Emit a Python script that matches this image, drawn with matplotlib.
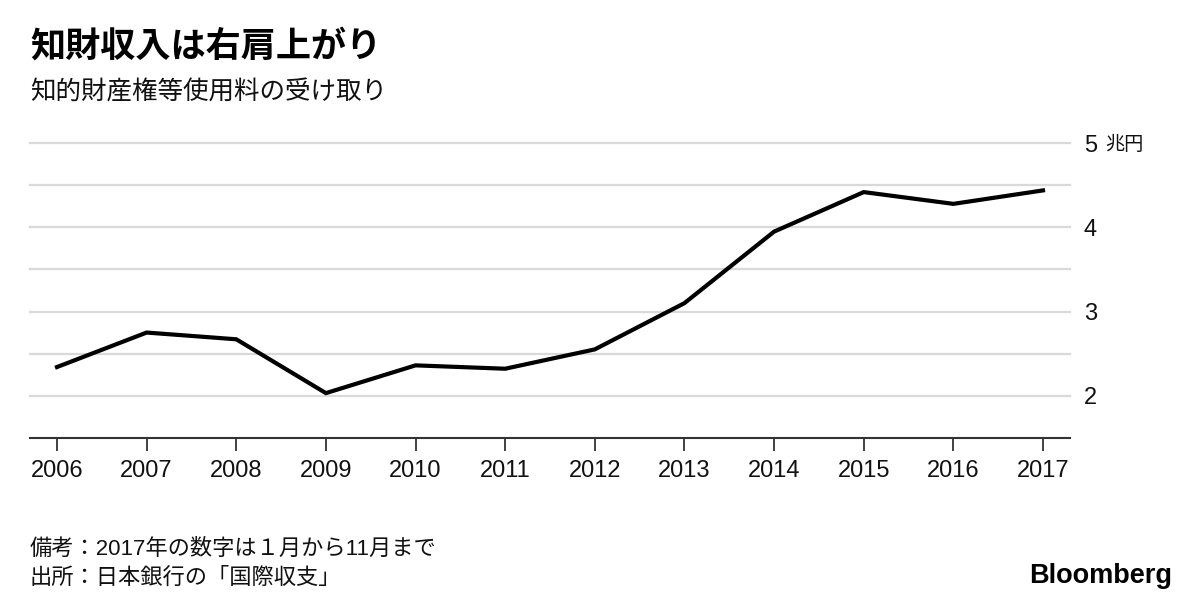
import matplotlib
matplotlib.use("Agg")
import matplotlib.pyplot as plt

years = [2006, 2007, 2008, 2009, 2010, 2011, 2012, 2013, 2014, 2015, 2016, 2017]
values = [2.34, 2.75, 2.67, 2.03, 2.36, 2.32, 2.55, 3.10, 3.95, 4.42, 4.28, 4.44]
ytick_vals = [2, 3, 4, 5]
ytick_labels = ["2", "3", "4", "5"]
y_unit = "兆円"
grid_vals = [2, 2.5, 3, 3.5, 4, 4.5, 5]

title = "知財収入は右肩上がり"
subtitle = "知的財産権等使用料の受け取り"
note1 = "備考：2017年の数字は１月から11月まで"
note2 = "出所：日本銀行の「国際収支」"

FAM = ["Liberation Sans", "Noto Sans CJK JP", "DejaVu Sans"]
plt.rcParams["font.family"] = FAM

W, H = 1200, 603
fig = plt.figure(figsize=(W / 100, H / 100), dpi=100)

left, right = 30, 1070
top, bottom = 139.1, 437.7
ax = fig.add_axes([left / W, 1 - bottom / H, (right - left) / W, (bottom - top) / H])

for g in grid_vals:
    ax.axhline(g, color="#d9d9d9", lw=1.6, zorder=1, clip_on=False)

ax.plot(years, values, color="black", lw=3.0, zorder=3, solid_joinstyle="miter")

ax.set_xlim(2006 - 27 / 89.64, 2017 + 27 / 89.64)
ax.set_ylim(1.5, 5.05)

for s in ["top", "left", "right"]:
    ax.spines[s].set_visible(False)
ax.spines["bottom"].set_color("#333333")
ax.spines["bottom"].set_linewidth(1.5)

ax.set_xticks(years)
ax.set_xticklabels([str(y) for y in years], fontsize=17, color="#111111")
ax.tick_params(axis="x", length=9, width=1.3, color="#333333", pad=7)

ax.yaxis.tick_right()
ax.set_yticks(ytick_vals)
ax.set_yticklabels(ytick_labels, fontsize=17, color="#111111")
ax.tick_params(axis="y", length=0, pad=10)
for lab in ax.get_yticklabels():
    lab.set_horizontalalignment("left")

# unit next to the top tick label
fig.text(1105 / W, 1 - 144 / H, y_unit, fontsize=13.8, family=["Noto Sans CJK JP"],
         va="center", ha="left", color="#111111")

fig.text(30 / W, 1 - 46 / H, title, fontsize=25.3, fontweight="bold",
         family=["Noto Sans CJK JP", "DejaVu Sans"], va="center", ha="left")
fig.text(30 / W, 1 - 92 / H, subtitle, fontsize=18.4,
         family=["Noto Sans CJK JP", "DejaVu Sans"], va="center", ha="left", color="#111111")

fig.text(30 / W, 1 - 549 / H, note1, fontsize=16, family=FAM, va="center", ha="left", color="#111111")
fig.text(30 / W, 1 - 578 / H, note2, fontsize=16, family=FAM, va="center", ha="left", color="#111111")

fig.text(1172 / W, 1 - 576 / H, "Bloomberg", fontsize=19.5, fontweight="bold",
         family=["Liberation Sans"], va="center", ha="right", color="black")

fig.savefig("out.png", dpi=100)
